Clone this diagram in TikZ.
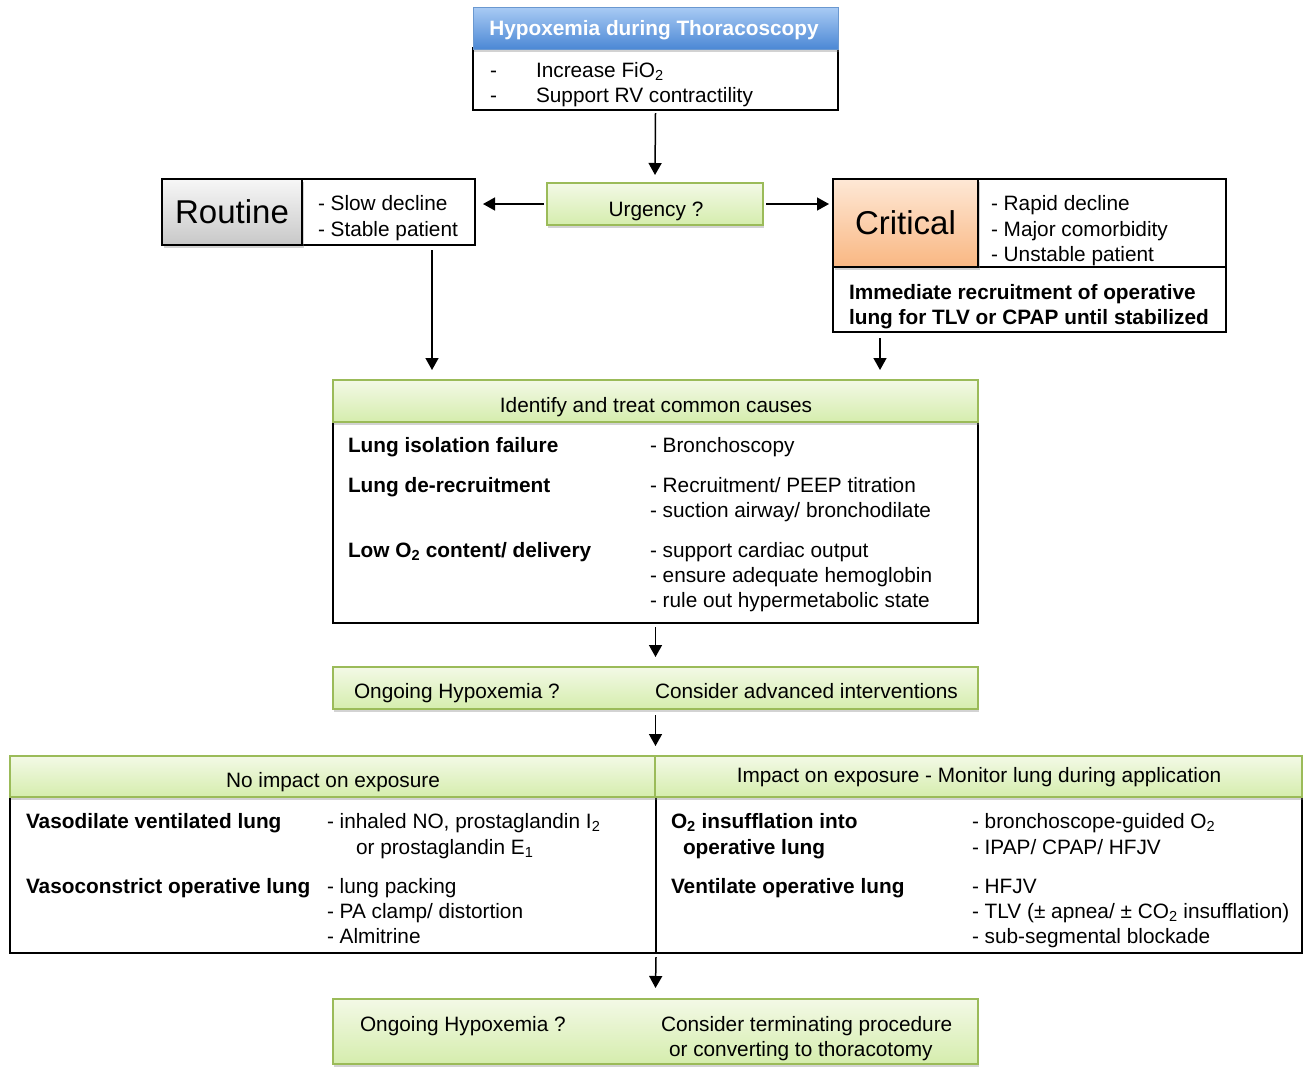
\documentclass[tikz,border=0pt]{standalone}
\usepackage{fontspec}
\setmainfont{Liberation Sans}
\usetikzlibrary{arrows.meta,shadows,calc}
\definecolor{gborder}{HTML}{9BBB59}
\definecolor{gtop}{HTML}{F3F9E6}
\definecolor{gbot}{HTML}{D5EDAD}
\definecolor{btop}{HTML}{A9CBF4}
\definecolor{bbot}{HTML}{4C88D5}
\definecolor{bborder}{HTML}{6A98D0}
\definecolor{otop}{HTML}{FEE8D6}
\definecolor{obot}{HTML}{F9B782}
\definecolor{rtop}{HTML}{F7F7F7}
\definecolor{rbot}{HTML}{C8C8C8}
\tikzset{
  every node/.style={font=\fontsize{20.8}{25}\selectfont, inner sep=0pt, outer sep=0pt},
  plainbox/.style={draw=black, line width=1.4pt, fill=white, anchor=north west},
  greenbox/.style={draw=gborder, line width=2pt, top color=gtop, bottom color=gbot, anchor=north west,
    drop shadow={shadow xshift=1pt, shadow yshift=-3pt, opacity=0.35}},
  bluebox/.style={draw=bborder, line width=1pt, top color=btop, bottom color=bbot, anchor=north west,
    drop shadow={shadow xshift=1pt, shadow yshift=-3pt, opacity=0.35}},
  graybox/.style={draw=black, line width=1.4pt, top color=rtop, bottom color=rbot, anchor=north west,
    drop shadow={shadow xshift=2pt, shadow yshift=-3pt, opacity=0.35}},
  orangebox/.style={draw=black, line width=1.4pt, top color=otop, bottom color=obot, anchor=north west,
    drop shadow={shadow xshift=2pt, shadow yshift=-3pt, opacity=0.35}},
  txt/.style={anchor=base west},
  ctxt/.style={anchor=base},
  btxt/.style={anchor=base west, font=\fontsize{20.8}{25}\selectfont\bfseries},
  big/.style={font=\fontsize{33}{36}\selectfont},
  arr/.style={line width=1.5pt, -{Triangle[length=12pt,width=13pt]}},
}
\begin{document}
\begin{tikzpicture}[x=1pt,y=-1pt]
\useasboundingbox (0,0) rectangle (1303,1066);

% top
\node[plainbox, minimum width=365, minimum height=62] (topbody) at (473,48) {};
\node[bluebox, minimum width=365, minimum height=42] (tophead) at (473,7) {};
\node[ctxt, text=white, font=\fontsize{20.8}{25}\selectfont\bfseries] (title) at (654,35) {Hypoxemia during Thoracoscopy};
\node[txt] (d1) at (490,77) {-};
\node[txt] (t1) at (536,77) {Increase FiO\textsubscript{2}};
\node[txt] (d2) at (490,102) {-};
\node[txt] (t2) at (536,102) {Support RV contractility};

% urgency
\node[greenbox, minimum width=216, minimum height=42] (urg) at (547,183) {};
\node[ctxt] (urgt) at (656,216) {Urgency ?};

% routine
\node[plainbox, minimum width=173, minimum height=66] (routtxt) at (302,179) {};
\node[graybox, minimum width=140, minimum height=66, big] (rout) at (162,179) {Routine};
\node[txt] (r1) at (318,210) {- Slow decline};
\node[txt] (r2) at (318,236) {- Stable patient};

% critical
\node[plainbox, minimum width=393, minimum height=153] (critall) at (833,179) {};
\draw[line width=1.4pt] (critall.west |- 0,267) -- (critall.east |- 0,267);
\node[orangebox, minimum width=145, minimum height=88, big] (crit) at (833,179) {Critical};
\draw[line width=1.4pt] (crit.north east) -- (crit.south east);
\node[txt] (c1) at (991,210) {- Rapid decline};
\node[txt] (c2) at (991,236) {- Major comorbidity};
\node[txt] (c3) at (991,261) {- Unstable patient};
\node[btxt] (c4) at (849,299) {Immediate recruitment of operative};
\node[btxt] (c5) at (849,324) {lung for TLV or CPAP until stabilized};

% identify
\node[plainbox, minimum width=645, minimum height=203] (identbody) at (333,420) {};
\node[greenbox, minimum width=645, minimum height=42] (identhead) at (333,380) {};
\node[ctxt] (identt) at (656,412) {Identify and treat common causes};
\node[btxt] (i1) at (348,452) {Lung isolation failure};
\node[btxt] (i2) at (348,492) {Lung de-recruitment};
\node[btxt] (i3) at (348,557) {Low O\textsubscript{2} content/ delivery};
\node[txt] (j1) at (650,452) {- Bronchoscopy};
\node[txt] (j2) at (650,492) {- Recruitment/ PEEP titration};
\node[txt] (j3) at (650,517) {- suction airway/ bronchodilate};
\node[txt] (j4) at (650,557) {- support cardiac output};
\node[txt] (j5) at (650,582) {- ensure adequate hemoglobin};
\node[txt] (j6) at (650,607) {- rule out hypermetabolic state};

% ongoing 1
\node[greenbox, minimum width=645, minimum height=42] (ong1) at (333,667) {};
\node[txt] (o1) at (354,698) {Ongoing Hypoxemia ?};
\node[txt] (o2) at (655,698) {Consider advanced interventions};

% big box
\node[plainbox, minimum width=1292, minimum height=158] (bigbody) at (10,795) {};
\draw[line width=1.4pt] (bigbody.north) -- (bigbody.south);
\node[greenbox, minimum width=645, minimum height=41] (lhead) at (10,756) {};
\node[greenbox, minimum width=647, minimum height=41] (rhead) at (655,756) {};
\node[ctxt] (lht) at (333,787) {No impact on exposure};
\node[ctxt] (rht) at (979,782) {Impact on exposure - Monitor lung during application};
\node[btxt] (l1) at (26,828) {Vasodilate ventilated lung};
\node[btxt] (l2) at (26,893) {Vasoconstrict operative lung};
\node[txt] (m1) at (327,828) {- inhaled NO, prostaglandin I\textsubscript{2}};
\node[txt] (m2) at (356,854) {or prostaglandin E\textsubscript{1}};
\node[txt] (m3) at (327,893) {- lung packing};
\node[txt] (m4) at (327,918) {- PA clamp/ distortion};
\node[txt] (m5) at (327,943) {- Almitrine};
\node[btxt] (p1) at (671,828) {O\textsubscript{2} insufflation into};
\node[btxt] (p2) at (683,854) {operative lung};
\node[btxt] (p3) at (671,893) {Ventilate operative lung};
\node[txt] (q1) at (972,828) {- bronchoscope-guided O\textsubscript{2}};
\node[txt] (q2) at (972,854) {- IPAP/ CPAP/ HFJV};
\node[txt] (q3) at (972,893) {- HFJV};
\node[txt] (q4) at (972,918) {- TLV (± apnea/ ± CO\textsubscript{2} insufflation)};
\node[txt] (q5) at (972,943) {- sub-segmental blockade};

% final
\node[greenbox, minimum width=645, minimum height=65] (fin) at (333,999) {};
\node[txt] (f1) at (360,1031) {Ongoing Hypoxemia ?};
\node[txt] (f2) at (661,1031) {Consider terminating procedure};
\node[txt] (f3) at (669,1056) {or converting to thoracotomy};

% arrows
\draw[arr] ([yshift=-3pt]topbody.south) -- ([yshift=8pt]urg.north);
\draw[arr] ([xshift=-3pt]urg.west) -- ($(routtxt.east |- urg.west)+(8,0)$);
\draw[arr] ([xshift=3pt]urg.east) -- ($(critall.west |- urg.east)+(-4,0)$);
\coordinate (ra) at ($(routtxt.south)+(43.5,5)$);
\draw[arr, shorten >=10pt] (ra) -- (ra |- identhead.north);
\coordinate (ca) at ($(critall.south west)+(47,6)$);
\draw[arr, shorten >=10pt] (ca) -- (ca |- identhead.north);
\draw[arr] ([yshift=-4pt]identbody.south) -- ([yshift=10pt]ong1.north);
\draw[arr] ([yshift=-6pt]ong1.south) -- ([yshift=10pt]ong1.south |- lhead.north);
\draw[arr] ([yshift=-4pt]bigbody.south) -- ([yshift=11pt]fin.north);
\end{tikzpicture}
\end{document}
